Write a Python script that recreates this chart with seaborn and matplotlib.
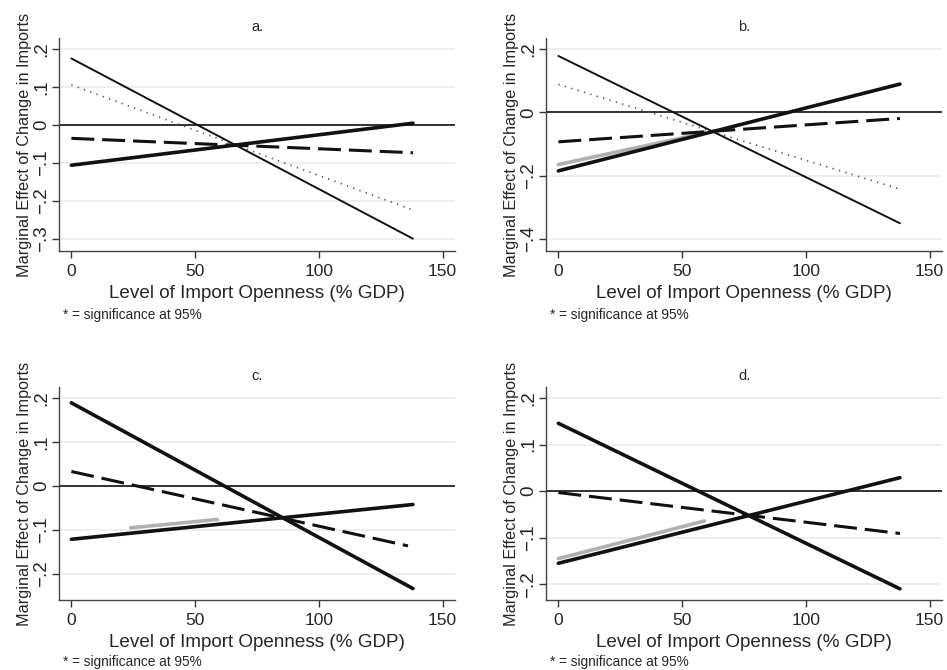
import matplotlib
matplotlib.use("Agg")
import matplotlib.pyplot as plt
import pandas as pd
import seaborn as sns

sns.set_theme(style="white")
plt.rcParams['font.family'] = ['Liberation Sans', 'DejaVu Sans']

# Level of import openness (% GDP) at the ends of each marginal-effect line
x_full = [0, 138]

# Panel a
a_thin = [0.176, -0.300]
a_dotted = [0.106, -0.224]
a_dashed = [-0.035, -0.073]
a_thick = [-0.106, 0.005]

# Panel b
b_thin = [0.179, -0.351]
b_dotted = [0.089, -0.243]
b_dashed = [-0.093, -0.019]
b_thick = [-0.185, 0.090]
b_sig_x = [0, 55]
b_sig = [-0.165, -0.072]

# Panel c
c_desc = [0.189, -0.233]
c_dashed_x = [0, 136]
c_dashed = [0.033, -0.136]
c_asc = [-0.121, -0.042]
c_sig_x = [24, 59]
c_sig = [-0.095, -0.076]

# Panel d
d_desc = [0.146, -0.210]
d_dashed = [-0.003, -0.091]
d_asc = [-0.155, 0.029]
d_sig_x = [0, 59]
d_sig = [-0.145, -0.064]

# Axis ticks
a_ticks = [0.2, 0.1, 0, -0.1, -0.2, -0.3]
a_ticklabels = [".2", ".1", "0", "\u2212.1", "\u2212.2", "\u2212.3"]
b_ticks = [0.2, 0, -0.2, -0.4]
b_ticklabels = [".2", "0", "\u2212.2", "\u2212.4"]
c_ticks = [0.2, 0.1, 0, -0.1, -0.2]
c_ticklabels = [".2", ".1", "0", "\u2212.1", "\u2212.2"]
d_ticks = c_ticks
d_ticklabels = c_ticklabels
x_ticks = [0, 50, 100, 150]
x_ticklabels = ["0", "50", "100", "150"]

STYLES = {
    "thin": dict(color="#111111", linewidth=1.4, linestyle="-"),
    "thick": dict(color="#111111", linewidth=2.6, linestyle="-"),
    "dashed": dict(color="#111111", linewidth=2.2, linestyle=(0, (7.5, 2.6))),
    "dotted": dict(color="#555555", linewidth=1.2, linestyle=(0, (0.8, 3.2))),
    "sig": dict(color="#b0b0b0", linewidth=2.6, linestyle="-"),
}


def series(x, y, kind):
    return (pd.DataFrame({"x": x, "y": y}), kind)


panels = [
    dict(title="a.", ylim=(-0.3325, 0.23), ticks=a_ticks, labels=a_ticklabels,
         lines=[series(x_full, a_dotted, "dotted"),
                series(x_full, a_dashed, "dashed"),
                series(x_full, a_thin, "thin"),
                series(x_full, a_thick, "thick")]),
    dict(title="b.", ylim=(-0.439, 0.236), ticks=b_ticks, labels=b_ticklabels,
         lines=[series(x_full, b_dotted, "dotted"),
                series(b_sig_x, b_sig, "sig"),
                series(x_full, b_dashed, "dashed"),
                series(x_full, b_thin, "thin"),
                series(x_full, b_thick, "thick")]),
    dict(title="c.", ylim=(-0.259, 0.225), ticks=c_ticks, labels=c_ticklabels,
         lines=[series(c_sig_x, c_sig, "sig"),
                series(c_dashed_x, c_dashed, "dashed"),
                series(x_full, c_desc, "thick"),
                series(x_full, c_asc, "thick")]),
    dict(title="d.", ylim=(-0.234, 0.224), ticks=d_ticks, labels=d_ticklabels,
         lines=[series(d_sig_x, d_sig, "sig"),
                series(x_full, d_dashed, "dashed"),
                series(x_full, d_desc, "thick"),
                series(x_full, d_asc, "thick")]),
]

W, H = 947, 670
fig = plt.figure(figsize=(W / 100, H / 100), dpi=100)

# axes boxes in pixels: left, top, right, bottom
boxes = [(59, 38, 455, 251), (546, 38, 942, 251),
         (59, 387, 455, 600), (546, 387, 942, 600)]
note_pos = [(63, 315), (550, 315), (63, 662), (550, 662)]

for p, (l, t, r, b), (nx, ny) in zip(panels, boxes, note_pos):
    ax = fig.add_axes([l / W, 1 - b / H, (r - l) / W, (b - t) / H])
    ax.set_xlim(-5, 155)
    ax.set_ylim(*p["ylim"])
    for yt in p["ticks"]:
        ax.axhline(yt, color="#ebebeb", linewidth=1.2, zorder=0)
    ax.axhline(0, color="#111111", linewidth=1.2, zorder=1)
    for df, kind in p["lines"]:
        sns.lineplot(data=df, x="x", y="y", ax=ax, **STYLES[kind])
    ax.set_yticks(p["ticks"])
    ax.set_yticklabels(p["labels"], rotation=90, va="center", fontsize=13.5)
    ax.set_xticks(x_ticks)
    ax.set_xticklabels(x_ticklabels, fontsize=12.5)
    ax.tick_params(axis="y", direction="out", length=5, width=1,
                   color="#333333", left=True, pad=1.5)
    ax.tick_params(axis="x", direction="out", length=5, width=1,
                   color="#333333", bottom=True, pad=4.5)
    ax.set_xlabel("Level of Import Openness (% GDP)", fontsize=13.6, labelpad=4)
    ax.set_ylabel("Marginal Effect of Change in Imports", fontsize=11.7, labelpad=1)
    ax.set_title(p["title"], fontsize=10.5, pad=5)
    for side in ("top", "right"):
        ax.spines[side].set_visible(False)
    for side in ("left", "bottom"):
        ax.spines[side].set_color("#444444")
        ax.spines[side].set_linewidth(1)
    fig.text(nx / W, 1 - ny / H, "* = significance at 95%", fontsize=9.8,
             va="center", ha="left")

fig.savefig("out.png", dpi=100, facecolor="white")
